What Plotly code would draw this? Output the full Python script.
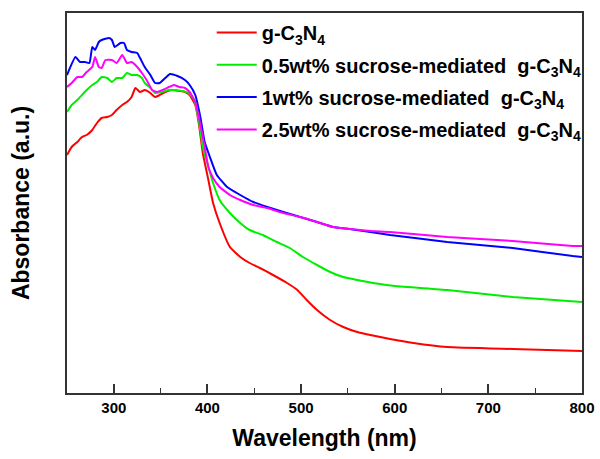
import plotly.graph_objects as go

# Wavelength (nm) / absorbance (a.u.)
red_x = [250, 255, 261, 266, 271, 277, 282, 287, 293, 298, 303, 309, 314, 319, 323, 328, 333, 339, 344, 349,
         355, 362, 370, 376, 381, 387, 391, 395, 401, 406, 413, 424, 435, 445, 456, 470, 485, 496, 506, 517,
         531, 545, 560, 574, 595, 620, 656, 726, 800]
red_y = [2.38, 2.46, 2.51, 2.56, 2.58, 2.63, 2.70, 2.75, 2.76, 2.78, 2.83, 2.88, 2.91, 2.96, 3.05, 3.01, 3.03, 3.00, 2.96, 2.98,
         3.01, 3.03, 3.02, 3.01, 2.98, 2.88, 2.68, 2.40, 2.13, 1.90, 1.70, 1.46, 1.36, 1.30, 1.25, 1.18, 1.10, 1.03, 0.93, 0.83,
         0.73, 0.66, 0.61, 0.58, 0.54, 0.50, 0.46, 0.44, 0.42]

green_x = [250, 255, 261, 266, 271, 277, 282, 287, 293, 298, 303, 309, 314, 319, 325, 330, 333, 339, 344, 351,
           359, 365, 373, 380, 386, 391, 395, 401, 406, 413, 424, 435, 445, 459, 474, 488, 502, 517, 531, 545,
           560, 577, 600, 656, 726, 800]
green_y = [2.81, 2.88, 2.93, 2.98, 3.03, 3.08, 3.11, 3.16, 3.15, 3.11, 3.15, 3.15, 3.20, 3.18, 3.18, 3.15, 3.10, 3.05, 3.00, 3.01,
           3.03, 3.03, 3.02, 3.00, 2.93, 2.71, 2.46, 2.26, 2.10, 1.93, 1.80, 1.70, 1.63, 1.58, 1.51, 1.45, 1.36, 1.28, 1.21, 1.16,
           1.13, 1.10, 1.07, 1.03, 0.96, 0.91]

blue_x = [250, 259, 264, 269, 274, 277, 280, 284, 287, 295, 298, 301, 307, 311, 314, 319, 325, 328, 333, 339,
          344, 349, 355, 360, 368, 376, 381, 387, 392, 397, 403, 410, 421, 435, 449, 464, 481, 499, 517, 534,
          552, 574, 595, 656, 726, 790, 800]
blue_y = [3.18, 3.36, 3.31, 3.31, 3.30, 3.46, 3.43, 3.51, 3.53, 3.55, 3.53, 3.46, 3.50, 3.50, 3.43, 3.41, 3.40, 3.35, 3.26, 3.18,
          3.10, 3.10, 3.15, 3.19, 3.17, 3.13, 3.08, 2.98, 2.78, 2.51, 2.35, 2.18, 2.06, 1.98, 1.91, 1.86, 1.81, 1.76, 1.71, 1.66,
          1.64, 1.61, 1.58, 1.51, 1.45, 1.37, 1.36]

magenta_x = [250, 255, 261, 266, 271, 277, 280, 284, 287, 291, 298, 303, 309, 314, 319, 325, 330, 335, 341, 346,
             352, 359, 364, 370, 376, 381, 387, 391, 396, 401, 406, 413, 424, 435, 449, 464, 481, 499, 517, 534,
             552, 574, 595, 656, 726, 790, 800]
magenta_y = [3.06, 3.10, 3.16, 3.16, 3.21, 3.26, 3.36, 3.26, 3.25, 3.33, 3.33, 3.30, 3.38, 3.30, 3.31, 3.26, 3.20, 3.13, 3.03, 3.01,
             3.03, 3.06, 3.08, 3.06, 3.05, 3.01, 2.91, 2.75, 2.51, 2.26, 2.15, 2.06, 1.98, 1.93, 1.88, 1.85, 1.80, 1.76, 1.71, 1.66,
             1.64, 1.62, 1.61, 1.56, 1.52, 1.47, 1.47]

names = ["g-C<sub>3</sub>N<sub>4</sub>",
         "0.5wt% sucrose-mediated \u00a0g-C<sub>3</sub>N<sub>4</sub>",
         "1wt% sucrose-mediated \u00a0g-C<sub>3</sub>N<sub>4</sub>",
         "2.5wt% sucrose-mediated \u00a0g-C<sub>3</sub>N<sub>4</sub>"]
colors = ["#FF0000", "#00EE00", "#0000FF", "#FF00FF"]
xs = [red_x, green_x, blue_x, magenta_x]
ys = [red_y, green_y, blue_y, magenta_y]

x_ticks = [300, 400, 500, 600, 700, 800]

FONT = "Liberation Sans, Arial, sans-serif"

fig = go.Figure()
for i in range(4):
    fig.add_trace(go.Scatter(x=xs[i], y=ys[i], mode="lines", name=names[i],
                             line=dict(color=colors[i], width=2, shape="spline", smoothing=0.4),
                             legendgroup=str(i)))

fig.update_layout(
    width=600, height=459,
    margin=dict(l=67, r=18, t=13, b=66),
    paper_bgcolor="white", plot_bgcolor="white",
    font=dict(family=FONT, color="black", weight="bold"),
    showlegend=True,
    legend=dict(x=0.281, y=1.0, xanchor="left", yanchor="top",
                font=dict(size=20, family=FONT, color="black", weight="bold"),
                bgcolor="rgba(0,0,0,0)", tracegroupgap=3.3, itemwidth=40),
    xaxis=dict(range=[250, 800], tickvals=x_ticks, ticktext=[str(v) for v in x_ticks],
               automargin=False,
               ticks="inside", ticklen=9, tickwidth=1.5, tickcolor="#333",
               minor=dict(ticks="inside", ticklen=5, tickwidth=1.2, tickcolor="#333", dtick=50, tick0=250),
               showline=True, linecolor="#333", linewidth=1.5, mirror=True,
               showgrid=False, zeroline=False,
               tickfont=dict(size=15, family=FONT, weight="bold"),
               title=dict(text="Wavelength (nm)", font=dict(size=23, family=FONT, weight="bold"), standoff=15)),
    yaxis=dict(range=[0, 3.8], showticklabels=False, ticks="", automargin=False,
               showline=True, linecolor="#333", linewidth=1.5, mirror=True,
               showgrid=False, zeroline=False,
               title=dict(text="Absorbance (a.u.)", font=dict(size=23, family=FONT, weight="bold"), standoff=29)),
)

fig.write_html("out.html")
